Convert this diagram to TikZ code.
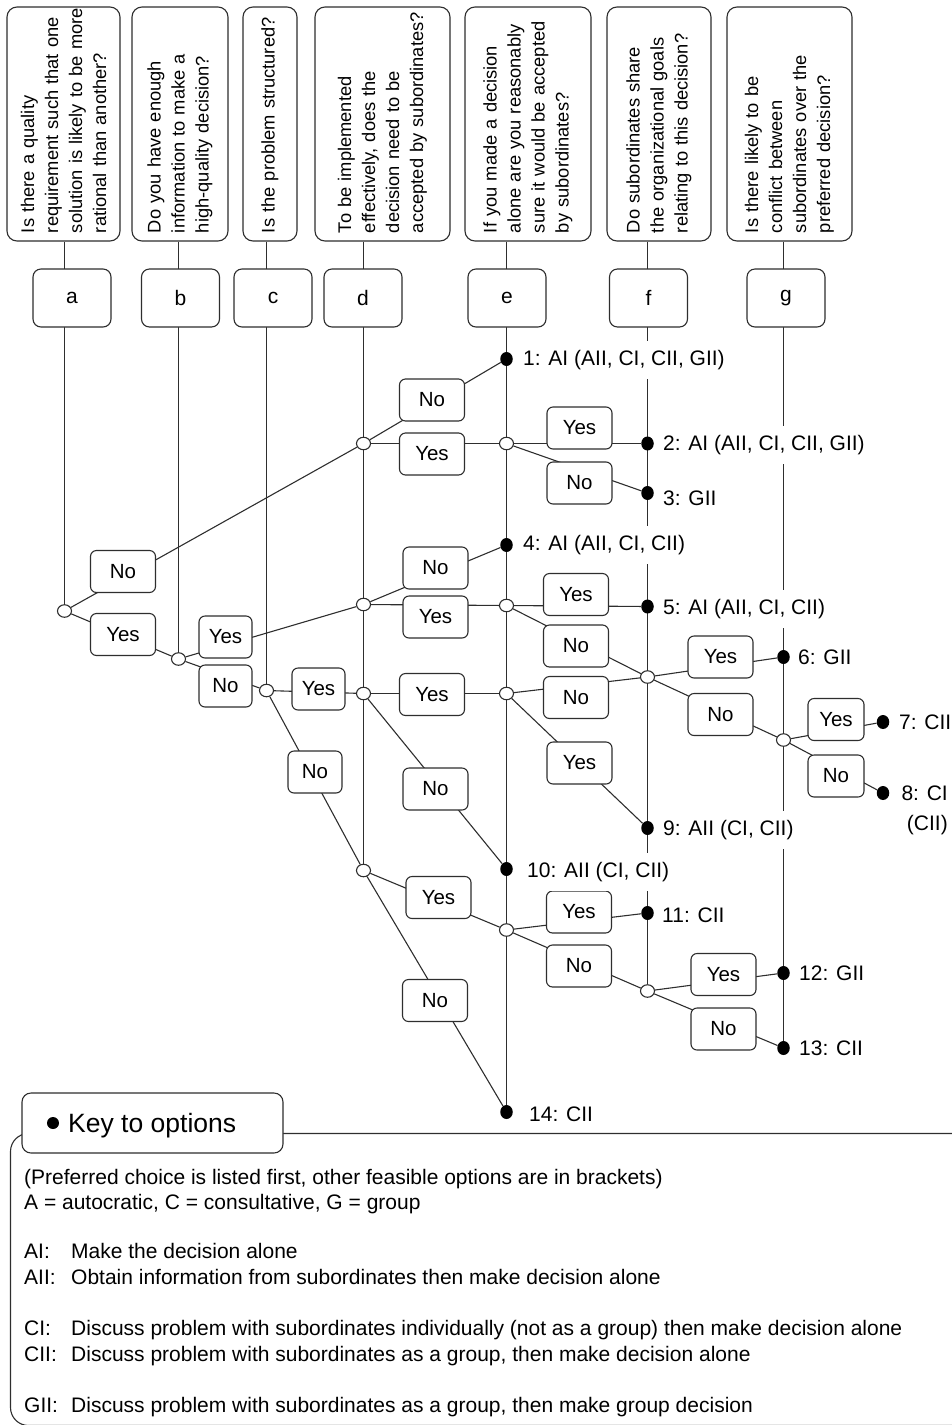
\documentclass[tikz,border=0pt]{standalone}
\usepackage{fontspec}
\setmainfont{Liberation Sans}
\usetikzlibrary{shapes.geometric}
\pgfdeclarelayer{lines}
\pgfsetlayers{lines,main}
\definecolor{ink}{HTML}{2E2E2E}
\tikzset{
  wire/.style={draw=ink, line width=1.1pt},
  qbox/.style={draw=ink, line width=1.1pt, fill=white, rounded corners=10pt, rotate=90,
    text width=218pt, inner xsep=8pt, inner ysep=0pt, align=left,
    font=\fontsize{18.3pt}{24pt}\selectfont},
  letter/.style={draw=ink, line width=1.1pt, fill=white, rounded corners=8pt,
    minimum width=78pt, minimum height=58pt, inner sep=0pt,
    font=\fontsize{21pt}{24pt}\selectfont},
  answer/.style={draw=ink, line width=1.1pt, fill=white, rounded corners=6pt,
    minimum width=65pt, minimum height=42pt, inner sep=0pt,
    font=\fontsize{20.5pt}{24pt}\selectfont},
  junction/.style={ellipse, draw=ink, line width=1.1pt, fill=white,
    minimum width=14pt, minimum height=12.5pt, inner sep=0pt},
  outcome/.style={ellipse, fill=black, minimum width=12.5pt, minimum height=14pt, inner sep=0pt},
  result/.style={anchor=base west, fill=white, inner xsep=2pt, inner ysep=9pt,
    font=\fontsize{21pt}{30pt}\selectfont},
  keytext/.style={anchor=base west, inner sep=0pt, font=\fontsize{21pt}{26pt}\selectfont},
}
\begin{document}
\begin{tikzpicture}[x=1pt, y=-1pt]
\useasboundingbox (0,0) rectangle (951,1425);

% question boxes (text reads upward); each line is kept whole
\node[qbox, minimum height=113pt] (qa) at (63.5,124) {\mbox{Is there a quality}\\\mbox{requirement such that one}\\\mbox{solution is likely to be more}\\\mbox{rational than another?}};
\node[qbox, minimum height=96pt] (qb) at (180,124) {\mbox{Do you have enough}\\\mbox{information to make a}\\\mbox{high-quality decision?}};
\node[qbox, minimum height=54pt] (qc) at (270,124) {\mbox{Is the problem structured?}};
\node[qbox, minimum height=135pt] (qd) at (382.5,124) {\mbox{To be implemented}\\\mbox{effectively, does the}\\\mbox{decision need to be}\\\mbox{accepted by subordinates?}};
\node[qbox, minimum height=126pt] (qe) at (528,124) {\mbox{If you made a decision}\\\mbox{alone are you reasonably}\\\mbox{sure it would be accepted}\\\mbox{by subordinates?}};
\node[qbox, minimum height=104pt] (qf) at (659,124) {\mbox{Do subordinates share}\\\mbox{the organizational goals}\\\mbox{relating to this decision?}};
\node[qbox, minimum height=125pt] (qg) at (789.5,124) {\mbox{Is there likely to be}\\\mbox{conflict between}\\\mbox{subordinates over the}\\\mbox{preferred decision?}};

% column letters
\node[letter] (la) at (72,298) {a};
\node[letter] (lb) at (180.5,298) {b};
\node[letter] (lc) at (273,298) {c};
\node[letter] (ld) at (363,298) {d};
\node[letter] (le) at (507,298) {e};
\node[letter] (lf) at (648.5,298) {f};
\node[letter] (lg) at (786,298) {g};

% yes / no answers
\node[answer] (aNo) at (123,571.5) {No};
\node[answer] (aYes) at (123,634.5) {Yes};
\node[answer, minimum width=53pt] (bYes) at (225.5,637) {Yes};
\node[answer, minimum width=53pt] (bNo) at (225.5,686) {No};
\node[answer, minimum width=53pt] (cYes) at (318.5,689) {Yes};
\node[answer, minimum width=54pt] (cNo) at (315,772) {No};
\node[answer] (dANo) at (432,400) {No};
\node[answer] (dAYes) at (432,454) {Yes};
\node[answer] (dBNo) at (435.5,568) {No};
\node[answer] (dBYes) at (435.5,617) {Yes};
\node[answer] (dCYes) at (432,694.5) {Yes};
\node[answer] (dCNo) at (435.5,789) {No};
\node[answer] (dDYes) at (438.5,897.5) {Yes};
\node[answer] (dDNo) at (435,1000.5) {No};
\node[answer] (eAYes) at (579.5,428) {Yes};
\node[answer] (eANo) at (579.5,483) {No};
\node[answer] (eBYes) at (576,594.5) {Yes};
\node[answer] (eBNo) at (576,646) {No};
\node[answer] (eCNo) at (576,697.5) {No};
\node[answer] (eCYes) at (579.5,763) {Yes};
\node[answer] (eDYes) at (579,912) {Yes};
\node[answer] (eDNo) at (579,966) {No};
\node[answer] (fAYes) at (720.5,657) {Yes};
\node[answer] (fANo) at (720.5,714.5) {No};
\node[answer] (fBYes) at (723.5,974.5) {Yes};
\node[answer] (fBNo) at (723.5,1029) {No};
\node[answer, minimum width=56pt] (gYes) at (836,719.5) {Yes};
\node[answer, minimum width=56pt] (gNo) at (836,776) {No};

% outcome labels
\node[result] (t1) at (521,365.5) {1: AI (AII, CI, CII, GII)};
\node[result] (t2) at (661,450.5) {2: AI (AII, CI, CII, GII)};
\node[result] (t3) at (661,505.5) {3: GII};
\node[result] (t4) at (521,550.5) {4: AI (AII, CI, CII)};
\node[result] (t5) at (661,614.5) {5: AI (AII, CI, CII)};
\node[result] (t6) at (796,664.5) {6: GII};
\node[result] (t7) at (897,729.5) {7: CII};
\node[result, anchor=north east, align=right] (t8) at (950,776.5) {8: CI\\(CII)};
\node[result] (t9) at (661,835.5) {9: AII (CI, CII)};
\node[result] (t10) at (525,877.5) {10: AII (CI, CII)};
\node[result] (t11) at (660,922.5) {11: CII};
\node[result] (t12) at (797,980.5) {12: GII};
\node[result] (t13) at (797,1055.5) {13: CII};
\node[result] (t14) at (527,1121.5) {14: CII};

% decision points
\node[junction] (ja) at (64.5,611) {};
\node[junction] (jb) at (178.5,659) {};
\node[junction] (jc) at (266.5,690.5) {};
\node[junction] (jd1) at (363.5,443.5) {};
\node[junction] (jd2) at (363.5,604.5) {};
\node[junction] (jd3) at (363.5,693.5) {};
\node[junction] (jd4) at (363.5,870.5) {};
\node[junction] (je1) at (506.5,443.5) {};
\node[junction] (je2) at (506.5,605.5) {};
\node[junction] (je3) at (506.5,693.5) {};
\node[junction] (je4) at (506.5,930) {};
\node[junction] (jf1) at (647.5,677) {};
\node[junction] (jf2) at (647.5,991) {};
\node[junction] (jg) at (783.5,740) {};

% end points
\node[outcome] (o1) at (506.5,359) {};
\node[outcome] (o2) at (647.5,443.5) {};
\node[outcome] (o3) at (647.5,493) {};
\node[outcome] (o4) at (506.5,545) {};
\node[outcome] (o5) at (647.5,606.5) {};
\node[outcome] (o6) at (783.5,657) {};
\node[outcome] (o7) at (883,722) {};
\node[outcome] (o8) at (883,793) {};
\node[outcome] (o9) at (647.5,828) {};
\node[outcome] (o10) at (506.5,869) {};
\node[outcome] (o11) at (647.5,913) {};
\node[outcome] (o12) at (783.5,973) {};
\node[outcome] (o13) at (783.5,1048) {};
\node[outcome] (o14) at (506.5,1112) {};

\begin{pgfonlayer}{lines}
  % question columns
  \draw[wire] (qa.west -| ja) -- (ja);
  \draw[wire] (qb.west -| jb) -- (jb);
  \draw[wire] (qc.west -| jc) -- (jc);
  \draw[wire] (qd.west -| jd4) -- (jd4);
  \draw[wire] (qe.west -| o14) -- (o14);
  \draw[wire] (qf.west -| jf2) -- (jf2);
  \draw[wire] (qg.west -| o13) -- (o13);
  % branches
  \draw[wire] (ja) -- (jd1);
  \draw[wire] (ja) -- (jb);
  \draw[wire] (jb) -- (jd2);
  \draw[wire] (jb) -- (jc);
  \draw[wire] (jc) -- (jd3);
  \draw[wire] (jc) -- (jd4);
  \draw[wire] (jd1) -- (o1);
  \draw[wire] (jd1) -- (je1);
  \draw[wire] (jd2) -- (o4);
  \draw[wire] (jd2) -- (je2);
  \draw[wire] (jd3) -- (je3);
  \draw[wire] (jd3) -- (o10);
  \draw[wire] (jd4) -- (je4);
  \draw[wire] (jd4) -- (o14);
  \draw[wire] (je1) -- (o2);
  \draw[wire] (je1) -- (o3);
  \draw[wire] (je2) -- (o5);
  \draw[wire] (je2) -- (jf1);
  \draw[wire] (je3) -- (jf1);
  \draw[wire] (je3) -- (o9);
  \draw[wire] (je4) -- (o11);
  \draw[wire] (je4) -- (jf2);
  \draw[wire] (jf1) -- (o6);
  \draw[wire] (jf1) -- (jg);
  \draw[wire] (jg) -- (o7);
  \draw[wire] (jg) -- (o8);
  \draw[wire] (jf2) -- (o12);
  \draw[wire] (jf2) -- (o13);
\end{pgfonlayer}

% key panel
\coordinate (frameTR) at (965,1133.5);
\coordinate (frameBL) at (10.5,1425.5);
\draw[wire, rounded corners=18pt] (frameTR) -- (frameTR -| frameBL) -- (frameBL) -- (frameBL -| frameTR);
\node[draw=ink, line width=1.1pt, fill=white, rounded corners=9pt, minimum width=261pt, minimum height=60pt] (keybox) at (152.5,1123) {};
\node[circle, fill=black, minimum size=12pt, inner sep=0pt] (keydot) at (53,1123) {};
\node[anchor=base west, inner sep=0pt, font=\fontsize{26.5pt}{30pt}\selectfont] (keytitle) at (68,1132) {Key to options};

\node[keytext] (kpref) at (24,1184.5) {(Preferred choice is listed first, other feasible options are in brackets)};
\node[keytext] (kabbr) at (24,1209.5) {A = autocratic, C = consultative, G = group};
\node[keytext] (kAI) at (24,1258.5) {AI:};
\node[keytext] (kAIdesc) at (71,1258.5) {Make the decision alone};
\node[keytext] (kAII) at (24,1284.5) {AII:};
\node[keytext] (kAIIdesc) at (71,1284.5) {Obtain information from subordinates then make decision alone};
\node[keytext] (kCI) at (24,1335.5) {CI:};
\node[keytext] (kCIdesc) at (71,1335.5) {Discuss problem with subordinates individually (not as a group) then make decision alone};
\node[keytext] (kCII) at (24,1361.5) {CII:};
\node[keytext] (kCIIdesc) at (71,1361.5) {Discuss problem with subordinates as a group, then make decision alone};
\node[keytext] (kGII) at (24,1412.5) {GII:};
\node[keytext] (kGIIdesc) at (71,1412.5) {Discuss problem with subordinates as a group, then make group decision};
\end{tikzpicture}
\end{document}
